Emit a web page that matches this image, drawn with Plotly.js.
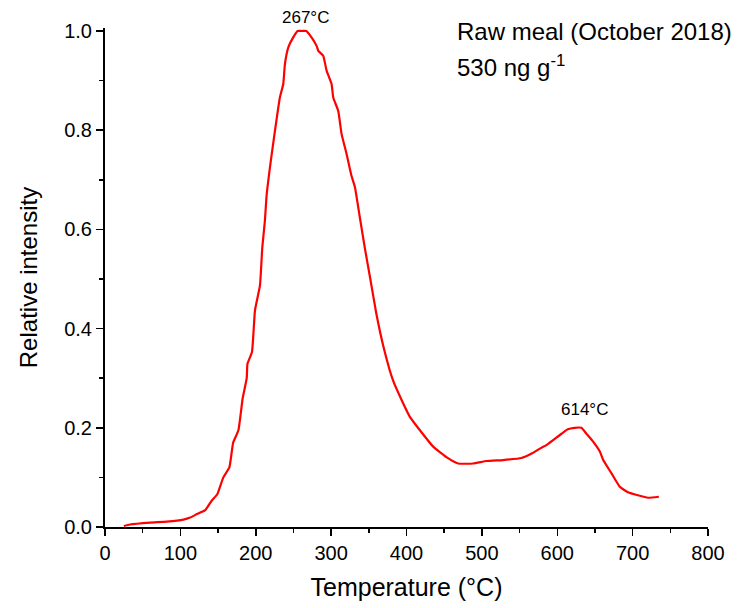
<!DOCTYPE html>
<html>
<head>
<meta charset="utf-8">
<script src="https://cdn.plot.ly/plotly-3.0.1.min.js"></script>
<style>
  html, body { margin: 0; padding: 0; background: #fff; }
  #chart { width: 747px; height: 608px; }
</style>
</head>
<body>
<div id="chart"></div>
<script>
// Thermal desorption profile: temperature (°C) vs relative intensity
const temperature = [
  25, 33, 60, 82, 104, 113, 122, 133, 141.5, 149, 157, 165, 170, 177, 182.6,
  188, 189, 195, 199, 205.6, 208.7, 212, 214.5, 219.7, 225.5, 232, 236.5,
  238.7, 243, 249.7, 255.5, 261, 267, 274, 280.7, 283, 289.5, 294, 300.6,
  302.8, 309.4, 313.9, 320.5, 327, 331.6, 338, 345, 352, 360, 370, 382,
  393.5, 404.5, 417.8, 435.4, 453, 468.6, 488.5, 506, 528, 552.5, 566, 577,
  585.6, 594.5, 605.6, 614, 623, 632, 638.7, 647.6, 656.5, 661, 672, 683,
  694, 707, 720.5, 734.8
];
const intensity = [
  0.002, 0.005, 0.009, 0.011, 0.015, 0.019, 0.026, 0.034, 0.053, 0.066, 0.10,
  0.12, 0.17, 0.195, 0.259, 0.300, 0.329, 0.353, 0.437, 0.487, 0.564, 0.615,
  0.670, 0.735, 0.799, 0.866, 0.893, 0.933, 0.966, 0.987, 1.0, 1.0, 1.0,
  0.987, 0.97, 0.96, 0.95, 0.92, 0.893, 0.866, 0.839, 0.792, 0.752, 0.708,
  0.685, 0.625, 0.56, 0.50, 0.43, 0.36, 0.296, 0.256, 0.222, 0.195, 0.162,
  0.141, 0.128, 0.128, 0.133, 0.135, 0.139, 0.148, 0.158, 0.165, 0.175,
  0.188, 0.197, 0.200, 0.200, 0.188, 0.172, 0.152, 0.135, 0.108, 0.081,
  0.070, 0.064, 0.059, 0.061
];

// Peak labels
const peakTemps = [267, 614];
const peakIntensity = [1.0, 0.200];
const peakLabels = ['267°C', '614°C'];
const peakShift = [[-1, 13], [17, 18]];

const sampleName = 'Raw meal (October 2018)';
const sampleConc = '530 ng g<sup>-1</sup>';

const xTicks = [0, 100, 200, 300, 400, 500, 600, 700, 800];
const yTicks = [0, 0.2, 0.4, 0.6, 0.8, 1.0];

const font = 'Liberation Sans, Arial, sans-serif';

const trace = {
  x: temperature,
  y: intensity,
  type: 'scatter',
  mode: 'lines',
  line: { color: '#ff0000', width: 2.2, shape: 'spline', smoothing: 0.4 },
  hoverinfo: 'x+y'
};

const annotations = peakTemps.map((t, i) => ({
  x: t, y: peakIntensity[i], xref: 'x', yref: 'y',
  text: peakLabels[i], showarrow: false,
  xshift: peakShift[i][0], yshift: peakShift[i][1],
  font: { family: font, size: 17, color: '#000' }
}));

annotations.push({
  xref: 'paper', yref: 'paper', x: 0.581, y: 0.992,
  xanchor: 'left', yanchor: 'middle',
  text: sampleName, showarrow: false,
  font: { family: font, size: 24, color: '#000' }
});
annotations.push({
  xref: 'paper', yref: 'paper', x: 0.581, y: 0.924,
  xanchor: 'left', yanchor: 'middle',
  text: sampleConc, showarrow: false,
  font: { family: font, size: 24, color: '#000' }
});

const layout = {
  width: 747,
  height: 608,
  margin: { l: 105, r: 39, t: 28, b: 81 },
  paper_bgcolor: '#fff',
  plot_bgcolor: '#fff',
  showlegend: false,
  font: { family: font, color: '#000' },
  xaxis: {
    range: [0, 800],
    tickvals: xTicks,
    ticktext: xTicks.map(String),
    ticks: 'outside',
    ticklen: 7,
    tickwidth: 1.5,
    tickcolor: '#000',
    showline: true,
    linecolor: '#000',
    linewidth: 2,
    showgrid: false,
    zeroline: false,
    tickfont: { family: font, size: 20, color: '#000' },
    minor: { dtick: 50, tick0: 0, ticks: 'outside', ticklen: 4, tickwidth: 1.5, tickcolor: '#000', showgrid: false },
    title: { text: 'Temperature (°C)', font: { family: font, size: 25, color: '#000' }, standoff: 15 }
  },
  yaxis: {
    range: [0, 1.006],
    tickvals: yTicks,
    ticktext: yTicks.map(v => v.toFixed(1)),
    ticks: 'outside',
    ticklen: 7,
    tickwidth: 1.5,
    tickcolor: '#000',
    showline: true,
    linecolor: '#000',
    linewidth: 2,
    showgrid: false,
    zeroline: false,
    tickfont: { family: font, size: 20, color: '#000' },
    minor: { dtick: 0.1, tick0: 0, ticks: 'outside', ticklen: 4, tickwidth: 1.5, tickcolor: '#000', showgrid: false },
    title: { text: 'Relative intensity', font: { family: font, size: 24, color: '#000' }, standoff: 20 }
  },
  annotations: annotations
};

Plotly.newPlot('chart', [trace], layout, { displayModeBar: false, staticPlot: true });
</script>
</body>
</html>
